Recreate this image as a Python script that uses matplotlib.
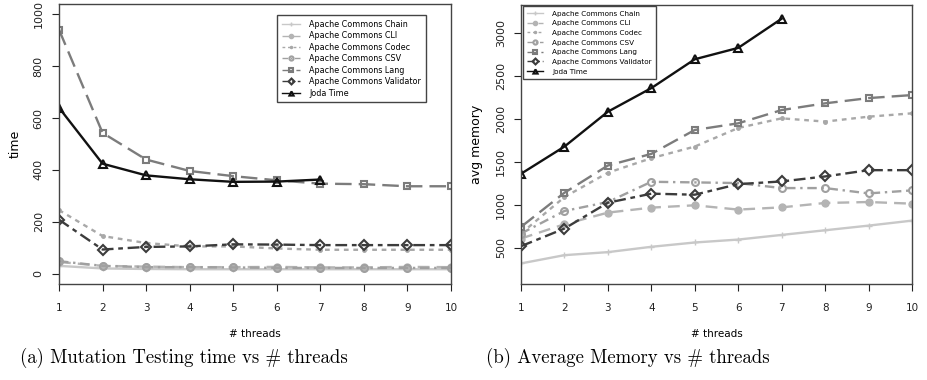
import matplotlib.pyplot as plt
import numpy as np

threads = [1, 2, 3, 4, 5, 6, 7, 8, 9, 10]
joda_threads = [1, 2, 3, 4, 5, 6, 7]

names = ["Apache Commons Chain", "Apache Commons CLI", "Apache Commons Codec",
         "Apache Commons CSV", "Apache Commons Lang", "Apache Commons Validator",
         "Joda Time"]

# (a) time
time_chain = [30, 20, 18, 17, 17, 17, 17, 17, 17, 17]
time_cli = [45, 30, 27, 25, 25, 26, 24, 24, 26, 25]
time_codec = [245, 145, 118, 105, 105, 97, 92, 92, 92, 92]
time_csv = [48, 30, 25, 25, 24, 22, 22, 22, 22, 22]
time_lang = [941, 543, 440, 396, 376, 360, 347, 345, 337, 337]
time_validator = [208, 93, 103, 105, 113, 112, 110, 110, 110, 110]
time_joda = [640, 424, 379, 364, 354, 355, 363]

# (b) avg memory
mem_chain = [319, 415, 450, 512, 562, 596, 650, 704, 758, 816]
mem_cli = [608, 774, 909, 967, 994, 944, 970, 1021, 1032, 1013]
mem_codec = [666, 1090, 1372, 1541, 1676, 1892, 2004, 1966, 2023, 2062]
mem_csv = [666, 928, 1032, 1267, 1260, 1252, 1194, 1194, 1132, 1167]
mem_lang = [743, 1140, 1456, 1591, 1869, 1946, 2100, 2178, 2239, 2274]
mem_validator = [519, 724, 1024, 1129, 1117, 1240, 1271, 1329, 1402, 1402]
mem_joda = [1360, 1676, 2081, 2355, 2690, 2822, 3161]

# line styles, one per project
styles = [
    dict(color="#c8c8c8", ls="-", marker="+", ms=4, mew=1),
    dict(color="#b4b4b4", ls=(0, (5, 3)), marker="o", ms=5, mew=1),
    dict(color="#a8a8a8", ls=(0, (2, 2)), marker=".", ms=5, mew=1),
    dict(color="#a0a0a0", ls=(0, (4, 2, 1, 2)), marker="o", ms=5, mew=1.5, mfc="none"),
    dict(color="#7c7c7c", ls=(0, (7, 3)), marker="s", ms=5, mew=1.5, mfc="none"),
    dict(color="#3c3c3c", ls=(0, (5, 2, 2, 2)), marker="D", ms=5, mew=1.5, mfc="none"),
    dict(color="#111111", ls="-", marker="^", ms=6, mew=1.5, mfc="none"),
]

fig = plt.figure(figsize=(9.28, 3.8), dpi=100)
W, H = 928, 380
ax1 = fig.add_axes([59 / W, (H - 284) / H, (451 - 59) / W, 280 / H])
ax2 = fig.add_axes([521 / W, (H - 284) / H, (912 - 521) / W, 279 / H])


def draw(ax, series, ylim, yticks, ylabel, legend_fs, anchor, spacing):
    for i, ys in enumerate(series):
        xs = joda_threads if i == 6 else threads
        ax.plot(xs, ys, lw=1.7, label=names[i], **styles[i])
    ax.set_xlim(1, 10)
    ax.set_ylim(*ylim)
    ax.set_xticks(threads)
    ax.set_yticks(yticks)
    ax.set_yticklabels([str(t) for t in yticks], rotation=90, va="center")
    ax.tick_params(direction="out", length=5, labelsize=8, colors="#222222", pad=6)
    ax.tick_params(axis="x", pad=9, labelsize=7.5)
    for s in ax.spines.values():
        s.set_color("#444444")
        s.set_linewidth(1)
    ax.set_ylabel(ylabel, fontsize=9, labelpad=9)
    ax.set_xlabel("# threads", fontsize=7.5, labelpad=11)
    leg = ax.legend(loc="upper left", bbox_to_anchor=anchor, borderaxespad=0,
                    fontsize=legend_fs, fancybox=False,
                    edgecolor="#444444", framealpha=1, handlelength=2.2,
                    borderpad=0.6, labelspacing=spacing, handletextpad=1.2)
    for line in leg.get_lines():
        line.set_linewidth(1)
        line.set_markersize(3)


draw(ax1, [time_chain, time_cli, time_codec, time_csv, time_lang, time_validator, time_joda],
     (-40, 1040), [0, 200, 400, 600, 800, 1000], "time", 5.8, (0.556, 0.96), 0.3)
draw(ax2, [mem_chain, mem_cli, mem_codec, mem_csv, mem_lang, mem_validator, mem_joda],
     (80, 3320), [500, 1000, 1500, 2000, 2500, 3000], "avg memory", 5.2, (0.005, 0.996), 0.5)

fig.text(20 / W, 1 - 358 / H, "(a) Mutation Testing time vs # threads",
         family=["cmr10", "DejaVu Serif"], fontsize=13.5, va="center")
fig.text(486 / W, 1 - 358 / H, "(b) Average Memory vs # threads",
         family=["cmr10", "DejaVu Serif"], fontsize=13.5, va="center")

fig.savefig("out.png", dpi=100)
